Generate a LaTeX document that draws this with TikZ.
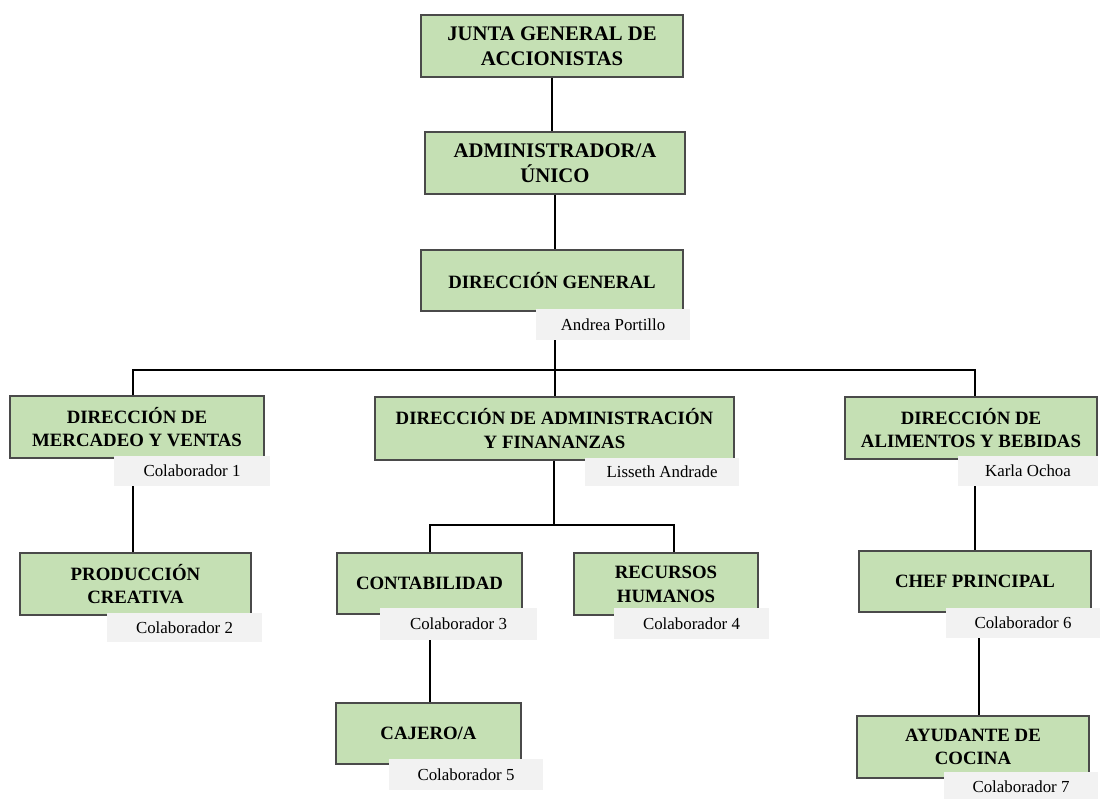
\documentclass[tikz,border=0pt]{standalone}
\usepackage{fontspec}
\setmainfont{Liberation Serif}
\usepackage{xcolor}
\usetikzlibrary{positioning}
\definecolor{cajaverde}{HTML}{C5E0B4}
\definecolor{bordecaja}{HTML}{4A4A4A}
\definecolor{etiqueta}{HTML}{F2F2F2}
\tikzset{
cargo/.style={draw=bordecaja,line width=0.6pt,fill=cajaverde,align=center,inner sep=0pt,
  font=\fontsize{10.7}{13.5}\selectfont\bfseries},
cargoalto/.style={cargo,font=\fontsize{11.8}{14.5}\selectfont\bfseries},
nombre/.style={fill=etiqueta,inner sep=0pt,font=\fontsize{9.6}{11}\selectfont},
enlace/.style={line width=1.1pt,black}
}
\begin{document}
\begin{tikzpicture}[x=0.02cm,y=-0.02cm]
\path[use as bounding box,clip](0,0)rectangle(1101,798);
\fill[white](0,0)rectangle(1101,798);
% cargos
\node[cargoalto,minimum width=262*0.02cm,minimum height=62*0.02cm](junta)at(552,46){JUNTA GENERAL DE\\ACCIONISTAS};
\node[cargoalto,minimum width=260*0.02cm,minimum height=62*0.02cm](admin)at(555,163){ADMINISTRADOR/A\\ÚNICO};
\node[cargo,minimum width=262*0.02cm,minimum height=61*0.02cm](dirgen)at(552,280.5){DIRECCIÓN GENERAL};
\node[cargo,minimum width=254*0.02cm,minimum height=62*0.02cm](mercadeo)at(137,427){DIRECCIÓN DE\\MERCADEO Y VENTAS};
\node[cargo,minimum width=359*0.02cm,minimum height=63*0.02cm](finanzas)at(554.5,428.5){DIRECCIÓN DE ADMINISTRACIÓN\\Y FINANANZAS};
\node[cargo,minimum width=252*0.02cm,minimum height=62*0.02cm](alimentos)at(971,428){DIRECCIÓN DE\\ALIMENTOS Y BEBIDAS};
\node[cargo,minimum width=231*0.02cm,minimum height=62*0.02cm](produccion)at(135.5,584){PRODUCCIÓN\\CREATIVA};
\node[cargo,minimum width=185*0.02cm,minimum height=61*0.02cm](contab)at(429.5,583.5){CONTABILIDAD};
\node[cargo,minimum width=184*0.02cm,minimum height=62*0.02cm](recursos)at(666,584){RECURSOS\\HUMANOS};
\node[cargo,minimum width=232*0.02cm,minimum height=61*0.02cm](chef)at(975,581.5){CHEF PRINCIPAL};
\node[cargo,minimum width=185*0.02cm,minimum height=61*0.02cm](cajero)at(428.5,733.5){CAJERO/A};
\node[cargo,minimum width=232*0.02cm,minimum height=62*0.02cm](ayudante)at(973,747){AYUDANTE DE\\COCINA};
% nombres
\node[nombre,minimum width=154*0.02cm,minimum height=31*0.02cm](nomgen)at(613,324.5){Andrea Portillo};
\node[nombre,minimum width=156*0.02cm,minimum height=30*0.02cm](nom1)at(192,471){Colaborador 1};
\node[nombre,minimum width=154*0.02cm,minimum height=28*0.02cm](nomfin)at(662,472){Lisseth Andrade};
\node[nombre,minimum width=140*0.02cm,minimum height=30*0.02cm](nomali)at(1028,471){Karla Ochoa};
\node[nombre,minimum width=155*0.02cm,minimum height=29*0.02cm](nom2)at(184.5,627.5){Colaborador 2};
\node[nombre,minimum width=157*0.02cm,minimum height=32*0.02cm](nom3)at(458.5,624){Colaborador 3};
\node[nombre,minimum width=155*0.02cm,minimum height=31*0.02cm](nom4)at(691.5,623.5){Colaborador 4};
\node[nombre,minimum width=154*0.02cm,minimum height=30*0.02cm](nom6)at(1023,623){Colaborador 6};
\node[nombre,minimum width=154*0.02cm,minimum height=31*0.02cm](nom5)at(466,774.5){Colaborador 5};
\node[nombre,minimum width=154*0.02cm,minimum height=30*0.02cm](nom7)at(1021,787){Colaborador 7};
% enlaces
\coordinate(bus)at(555,370);
\coordinate(ramal)at(554,525);
\draw[enlace](junta.south)--(junta.south|-admin.north);
\draw[enlace](admin.south)--(admin.south|-dirgen.north);
\draw[enlace](nomgen.south-|bus)--(bus)--(bus|-finanzas.north);
\draw[enlace]([xshift=-0.08cm]mercadeo.north)|-(bus)-|([xshift=0.08cm]alimentos.north);
\draw[enlace]([xshift=-0.05cm]nom1.south-|produccion.north)--([xshift=-0.05cm]produccion.north);
\draw[enlace](finanzas.south-|ramal)--(ramal);
\draw[enlace]([xshift=0.01cm]contab.north)|-(ramal)-|([xshift=0.16cm]recursos.north);
\draw[enlace](nomali.south-|chef.north)--(chef.north);
\draw[enlace]([xshift=0.01cm]nom3.south-|contab.north)--([xshift=0.01cm]contab.north|-cajero.north);
\draw[enlace]([xshift=0.12cm]nom6.south-|ayudante.north)--([xshift=0.12cm]ayudante.north);
\end{tikzpicture}
\end{document}
